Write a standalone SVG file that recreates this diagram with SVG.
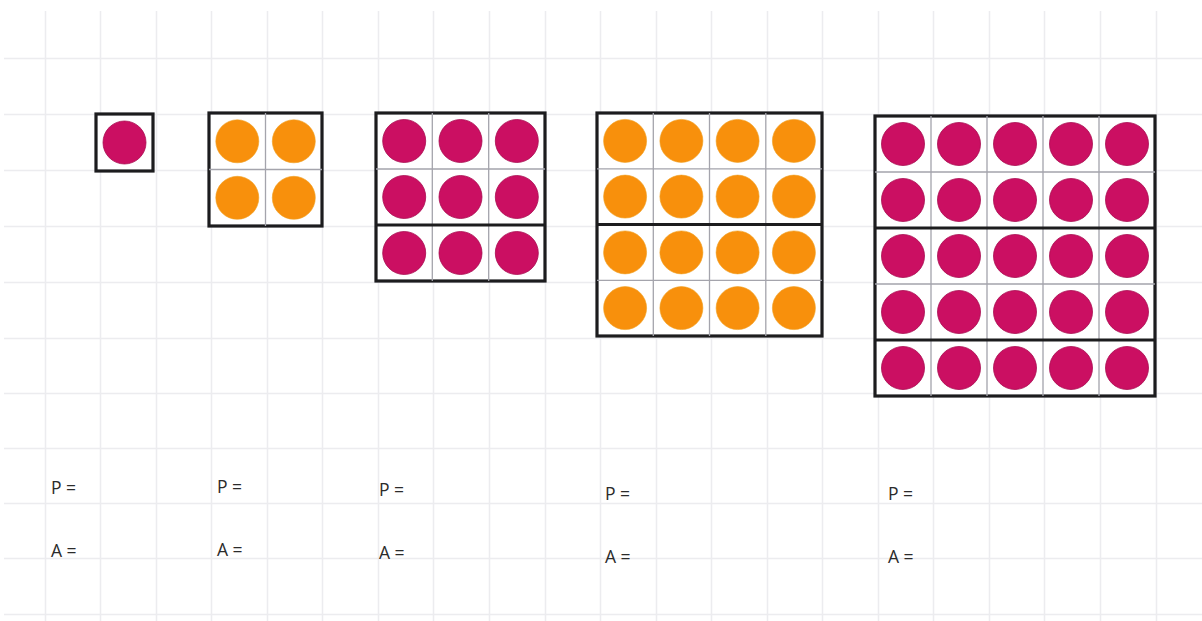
<svg xmlns="http://www.w3.org/2000/svg" width="1202" height="621" viewBox="0 0 1202 621">
<style>
.bg{fill:#ffffff}
.gl{stroke:#ececef;stroke-width:1.5;fill:none}
.frame{fill:#ffffff;stroke:#1c1c1e;stroke-width:3.2}
.thin{stroke:#a4a4ac;stroke-width:1.3;fill:none}
.thick{stroke:#1c1c1e;stroke-width:3;fill:none}
.m{fill:#cb0f62;stroke:#a80c50;stroke-width:0.8}
.o{fill:#f8900c;stroke:#f0a020;stroke-width:0.6}
.lbl{font-family:"Open Sans","Liberation Sans",sans-serif;font-size:17.5px;fill:#2b2b2b}
</style>
<rect class="bg" x="0" y="0" width="1202" height="621"/>
<g id="grid">
<path class="gl" d="M45.5 11V621M100.5 11V621M156.5 11V621M211.5 11V621M267.5 11V621M322.5 11V621M378.5 11V621M433.5 11V621M489.5 11V621M545.5 11V621M600.5 11V621M656.5 11V621M711.5 11V621M767.5 11V621M822.5 11V621M878.5 11V621M933.5 11V621M989.5 11V621M1044.5 11V621M1100.5 11V621M1156.5 11V621"/>
<path class="gl" d="M4 58.5H1202M4 114.5H1202M4 170.5H1202M4 226.5H1202M4 282.5H1202M4 338.5H1202M4 393.5H1202M4 448.5H1202M4 503.5H1202M4 558.5H1202M4 614.5H1202"/>
</g>
<g id="square1">
<rect class="frame" x="96" y="114" width="57" height="57"/>
<circle class="m" cx="124.5" cy="142.5" r="21.5"/>
</g>
<g id="square2">
<rect class="frame" x="209" y="113" width="113" height="113"/>
<path class="thin" d="M265.5 113V226M209 169.5H322"/>
<circle class="o" cx="237.3" cy="141.3" r="21.5"/>
<circle class="o" cx="293.8" cy="141.3" r="21.5"/>
<circle class="o" cx="237.3" cy="197.8" r="21.5"/>
<circle class="o" cx="293.8" cy="197.8" r="21.5"/>
</g>
<g id="square3">
<rect class="frame" x="376" y="113" width="169" height="168"/>
<path class="thin" d="M432.3 113V281M488.7 113V281M376 169H545"/>
<path class="thick" d="M376 225H545"/>
<circle class="m" cx="404.2" cy="141" r="21.5"/>
<circle class="m" cx="460.5" cy="141" r="21.5"/>
<circle class="m" cx="516.8" cy="141" r="21.5"/>
<circle class="m" cx="404.2" cy="197" r="21.5"/>
<circle class="m" cx="460.5" cy="197" r="21.5"/>
<circle class="m" cx="516.8" cy="197" r="21.5"/>
<circle class="m" cx="404.2" cy="253" r="21.5"/>
<circle class="m" cx="460.5" cy="253" r="21.5"/>
<circle class="m" cx="516.8" cy="253" r="21.5"/>
</g>
<g id="square4">
<rect class="frame" x="597" y="113" width="225" height="223"/>
<path class="thin" d="M653.3 113V336M709.5 113V336M765.8 113V336M597 168.8H822M597 280.3H822"/>
<path class="thick" d="M597 224.5H822"/>
<circle class="o" cx="625.1" cy="140.9" r="21.5"/>
<circle class="o" cx="681.4" cy="140.9" r="21.5"/>
<circle class="o" cx="737.6" cy="140.9" r="21.5"/>
<circle class="o" cx="793.9" cy="140.9" r="21.5"/>
<circle class="o" cx="625.1" cy="196.6" r="21.5"/>
<circle class="o" cx="681.4" cy="196.6" r="21.5"/>
<circle class="o" cx="737.6" cy="196.6" r="21.5"/>
<circle class="o" cx="793.9" cy="196.6" r="21.5"/>
<circle class="o" cx="625.1" cy="252.4" r="21.5"/>
<circle class="o" cx="681.4" cy="252.4" r="21.5"/>
<circle class="o" cx="737.6" cy="252.4" r="21.5"/>
<circle class="o" cx="793.9" cy="252.4" r="21.5"/>
<circle class="o" cx="625.1" cy="308.1" r="21.5"/>
<circle class="o" cx="681.4" cy="308.1" r="21.5"/>
<circle class="o" cx="737.6" cy="308.1" r="21.5"/>
<circle class="o" cx="793.9" cy="308.1" r="21.5"/>
</g>
<g id="square5">
<rect class="frame" x="875" y="116" width="280" height="280"/>
<path class="thin" d="M931 116V396M987 116V396M1043 116V396M1099 116V396M875 172H1155M875 284H1155"/>
<path class="thick" d="M875 228H1155M875 340H1155"/>
<circle class="m" cx="903" cy="144" r="21.5"/>
<circle class="m" cx="959" cy="144" r="21.5"/>
<circle class="m" cx="1015" cy="144" r="21.5"/>
<circle class="m" cx="1071" cy="144" r="21.5"/>
<circle class="m" cx="1127" cy="144" r="21.5"/>
<circle class="m" cx="903" cy="200" r="21.5"/>
<circle class="m" cx="959" cy="200" r="21.5"/>
<circle class="m" cx="1015" cy="200" r="21.5"/>
<circle class="m" cx="1071" cy="200" r="21.5"/>
<circle class="m" cx="1127" cy="200" r="21.5"/>
<circle class="m" cx="903" cy="256" r="21.5"/>
<circle class="m" cx="959" cy="256" r="21.5"/>
<circle class="m" cx="1015" cy="256" r="21.5"/>
<circle class="m" cx="1071" cy="256" r="21.5"/>
<circle class="m" cx="1127" cy="256" r="21.5"/>
<circle class="m" cx="903" cy="312" r="21.5"/>
<circle class="m" cx="959" cy="312" r="21.5"/>
<circle class="m" cx="1015" cy="312" r="21.5"/>
<circle class="m" cx="1071" cy="312" r="21.5"/>
<circle class="m" cx="1127" cy="312" r="21.5"/>
<circle class="m" cx="903" cy="368" r="21.5"/>
<circle class="m" cx="959" cy="368" r="21.5"/>
<circle class="m" cx="1015" cy="368" r="21.5"/>
<circle class="m" cx="1071" cy="368" r="21.5"/>
<circle class="m" cx="1127" cy="368" r="21.5"/>
</g>
<g id="labels">
<text class="lbl" x="51" y="494">P =</text>
<text class="lbl" x="51" y="557">A =</text>
<text class="lbl" x="217" y="493">P =</text>
<text class="lbl" x="217" y="556">A =</text>
<text class="lbl" x="379" y="496">P =</text>
<text class="lbl" x="379" y="559">A =</text>
<text class="lbl" x="605" y="500">P =</text>
<text class="lbl" x="605" y="563">A =</text>
<text class="lbl" x="888" y="500">P =</text>
<text class="lbl" x="888" y="563">A =</text>
</g>
</svg>
